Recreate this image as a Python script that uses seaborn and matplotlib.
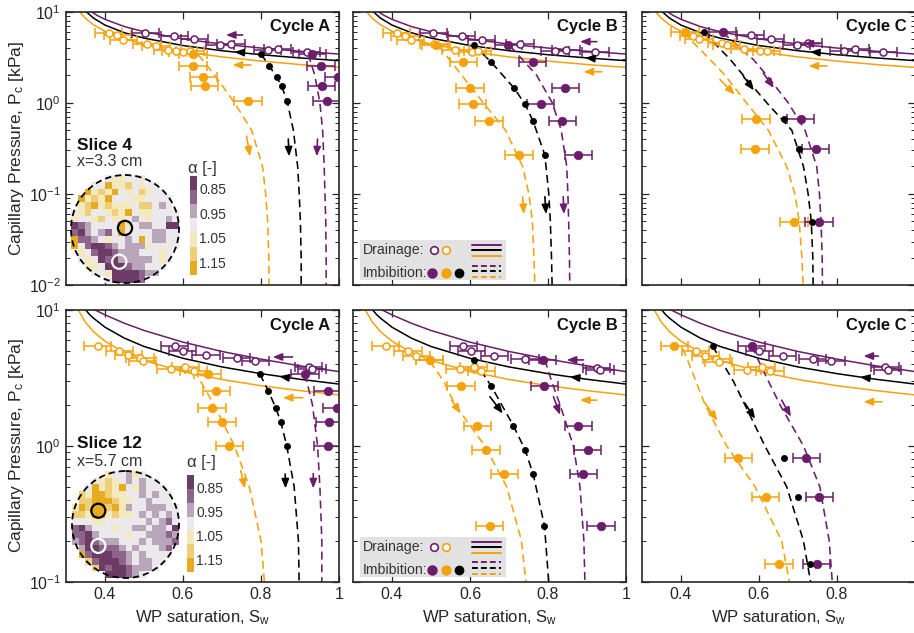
import numpy as np
import matplotlib
matplotlib.use("Agg")
import matplotlib.pyplot as plt
import seaborn as sns
from matplotlib.colors import ListedColormap
from matplotlib.patches import Circle, Rectangle
from matplotlib.ticker import LogLocator, NullFormatter, FixedLocator

# ------------------------------------------------------------------ colours
PURPLE = "#6b1d6b"
ORANGE = "#f6a20c"
BLACK = "#000000"
COLS = {"pu": PURPLE, "or": ORANGE, "bk": BLACK}

# ------------------------------------------------------------------ model drainage curves (solid), per slice
DR4_OR_S = [0.330, 0.340, 0.350, 0.370, 0.400, 0.450, 0.500, 0.600, 0.700, 0.800, 0.900, 1.000]
DR4_OR_P = [10.7, 9.38, 8.45, 7.21, 6.10, 5.05, 4.41, 3.65, 3.19, 2.87, 2.63, 2.45]
DR4_BK_S = [0.345, 0.352, 0.370, 0.400, 0.450, 0.500, 0.600, 0.700, 0.800, 0.900, 1.000]
DR4_BK_P = [10.8, 10.0, 8.53, 7.13, 5.87, 5.13, 4.25, 3.73, 3.37, 3.11, 2.90]
DR4_PU_S = [0.355, 0.365, 0.380, 0.400, 0.450, 0.500, 0.600, 0.700, 0.800, 0.900, 1.000]
DR4_PU_P = [10.8, 10.0, 9.10, 8.24, 6.86, 6.03, 5.02, 4.41, 3.99, 3.68, 3.43]

DR12_OR_S = [0.325, 0.335, 0.350, 0.370, 0.400, 0.450, 0.500, 0.600, 0.700, 0.800, 0.900, 1.000]
DR12_OR_P = [11.2, 9.60, 8.12, 6.95, 5.89, 4.87, 4.25, 3.52, 3.08, 2.77, 2.55, 2.37]
DR12_BK_S = [0.340, 0.360, 0.370, 0.400, 0.450, 0.500, 0.600, 0.700, 0.800, 0.900, 1.000]
DR12_BK_P = [10.85, 9.29, 8.73, 7.47, 6.20, 5.39, 4.41, 3.81, 3.40, 3.09, 2.85]
DR12_PU_S = [0.360, 0.380, 0.400, 0.450, 0.500, 0.600, 0.700, 0.800, 0.900, 1.000]
DR12_PU_P = [10.55, 9.83, 9.21, 7.98, 7.07, 5.80, 4.95, 4.35, 3.88, 3.52]

# ------------------------------------------------------------------ model imbibition curves (dashed), per panel
IA4_OR_S = [0.639, 0.682, 0.732, 0.776, 0.804, 0.812, 0.817, 0.820, 0.821]
IA4_OR_P = [3.37, 2.0, 1.0, 0.5, 0.2, 0.1, 0.05, 0.02, 0.008]
IA4_BK_S = [0.800, 0.821, 0.840, 0.853, 0.867, 0.883, 0.894, 0.898, 0.901, 0.903, 0.903]
IA4_BK_P = [3.43, 2.55, 1.92, 1.52, 1.04, 0.5, 0.2, 0.1, 0.05, 0.02, 0.008]
IA4_PU_S = [0.921, 0.938, 0.951, 0.958, 0.962, 0.964, 0.966, 0.967, 0.967]
IA4_PU_P = [3.40, 2.0, 1.0, 0.5, 0.2, 0.1, 0.05, 0.02, 0.008]

IB4_OR_S = [0.520, 0.579, 0.634, 0.691, 0.735, 0.751, 0.760, 0.764, 0.767]
IB4_OR_P = [4.2, 2.0, 1.0, 0.5, 0.2, 0.1, 0.05, 0.02, 0.008]
IB4_BK_S = [0.609, 0.654, 0.713, 0.741, 0.762, 0.792, 0.802, 0.806, 0.809, 0.811]
IB4_BK_P = [4.30, 2.81, 1.45, 0.97, 0.625, 0.267, 0.1, 0.05, 0.02, 0.008]
IB4_PU_S = [0.703, 0.771, 0.811, 0.834, 0.848, 0.851, 0.853, 0.855, 0.856]
IB4_PU_P = [4.2, 2.0, 1.0, 0.5, 0.2, 0.1, 0.05, 0.02, 0.008]

IC4_OR_S = [0.406, 0.474, 0.513, 0.568, 0.624, 0.671, 0.692, 0.703, 0.710, 0.714]
IC4_OR_P = [5.9, 3.0, 2.0, 1.0, 0.5, 0.2, 0.1, 0.05, 0.02, 0.008]
IC4_BK_S = [0.459, 0.526, 0.560, 0.620, 0.684, 0.714, 0.726, 0.734, 0.738, 0.739]
IC4_BK_P = [5.93, 3.0, 2.0, 1.0, 0.5, 0.2, 0.1, 0.05, 0.02, 0.008]
IC4_PU_S = [0.507, 0.585, 0.620, 0.675, 0.718, 0.748, 0.755, 0.759, 0.762, 0.763]
IC4_PU_P = [5.93, 3.0, 2.0, 1.0, 0.5, 0.2, 0.1, 0.05, 0.02, 0.008]

IA12_OR_S = [0.629, 0.680, 0.732, 0.770, 0.800, 0.810]
IA12_OR_P = [3.6, 2.0, 1.0, 0.5, 0.2, 0.09]
IA12_BK_S = [0.797, 0.819, 0.838, 0.851, 0.866, 0.885, 0.896, 0.898]
IA12_BK_P = [3.38, 2.53, 1.90, 1.49, 1.0, 0.5, 0.2, 0.09]
IA12_PU_S = [0.913, 0.932, 0.945, 0.951, 0.956, 0.956]
IA12_PU_P = [3.38, 2.0, 1.0, 0.5, 0.2, 0.09]

IB12_OR_S = [0.497, 0.532, 0.562, 0.638, 0.694, 0.732, 0.745]
IB12_OR_P = [4.2, 3.0, 2.0, 1.0, 0.5, 0.2, 0.09]
IB12_BK_S = [0.609, 0.654, 0.711, 0.741, 0.762, 0.791, 0.803]
IB12_BK_P = [4.29, 2.77, 1.41, 0.94, 0.62, 0.258, 0.09]
IB12_PU_S = [0.792, 0.809, 0.831, 0.865, 0.882, 0.892, 0.895]
IB12_PU_P = [4.29, 3.0, 2.0, 1.0, 0.5, 0.2, 0.09]

IC12_OR_S = [0.405, 0.438, 0.462, 0.517, 0.590, 0.658, 0.681]
IC12_OR_P = [5.2, 3.0, 2.0, 1.0, 0.5, 0.2, 0.09]
IC12_BK_S = [0.481, 0.534, 0.564, 0.615, 0.671, 0.714, 0.735]
IC12_BK_P = [5.43, 3.0, 2.0, 1.0, 0.5, 0.2, 0.09]
IC12_PU_S = [0.581, 0.624, 0.654, 0.714, 0.756, 0.780, 0.789]
IC12_PU_P = [5.43, 3.0, 2.0, 1.0, 0.5, 0.2, 0.09]

# ------------------------------------------------------------------ measured points
XERR = 0.035
# slice 4, cycle A
A4_DO_S = [0.409, 0.432, 0.447, 0.508, 0.531, 0.561, 0.582, 0.600, 0.618]
A4_DO_P = [5.89, 5.50, 4.90, 4.38, 4.16, 3.79, 3.70, 3.64, 3.70]
A4_DP_S = [0.503, 0.578, 0.629, 0.695, 0.723, 0.817, 0.843, 0.917]
A4_DP_P = [5.89, 5.41, 4.97, 4.27, 4.46, 3.76, 3.86, 3.64]
A4_IM_P = [3.43, 2.55, 1.92, 1.52, 1.04]
A4_IO_S = [0.626, 0.626, 0.652, 0.656, 0.767]
A4_IB_S = [0.800, 0.821, 0.840, 0.853, 0.867]
A4_IP_S = [0.932, 0.954, 0.998, 0.956, 0.969]
# slice 4, cycle B
B4_DO_S = [0.412, 0.433, 0.448, 0.508, 0.562, 0.606, 0.620]
B4_DO_P = [5.84, 5.46, 4.93, 4.46, 3.83, 3.61, 3.70]
B4_DP_S = [0.506, 0.579, 0.630, 0.728, 0.818, 0.846, 0.921]
B4_DP_P = [5.84, 5.46, 4.93, 4.46, 3.73, 3.83, 3.61]
B4_IM_P = [4.30, 2.81, 1.45, 0.97, 0.625, 0.267]
B4_IO_S = [0.513, 0.583, 0.600, 0.607, 0.649, 0.726]
B4_IB_S = [0.609, 0.654, 0.713, 0.741, 0.762, 0.792]
B4_IP_S = [0.698, 0.761, 0.844, 0.781, 0.837, 0.878]
# slice 4, cycle C
C4_DO_S = [0.432, 0.446, 0.504, 0.517, 0.562, 0.603, 0.620]
C4_DO_P = [5.36, 5.00, 4.53, 4.35, 3.89, 3.66, 3.73]
C4_DP_S = [0.579, 0.630, 0.697, 0.726, 0.818, 0.846, 0.919]
C4_DP_P = [5.50, 5.00, 4.35, 4.53, 3.73, 3.89, 3.61]
C4_IM_P = [5.93, 0.664, 0.313, 0.0486]
C4_IO_S = [0.410, 0.592, 0.590, 0.690]
C4_IB_S = [0.459, 0.665, 0.703, 0.735]
C4_IP_S = [0.507, 0.707, 0.745, 0.754]
# slice 12, cycle A
A12_DO_S = [0.381, 0.437, 0.460, 0.490, 0.497, 0.569, 0.606, 0.627]
A12_DO_P = [5.43, 5.01, 4.66, 4.41, 4.21, 3.66, 3.83, 3.57]
A12_DP_S = [0.579, 0.599, 0.659, 0.738, 0.785, 0.922, 0.931]
A12_DP_P = [5.46, 5.01, 4.66, 4.41, 4.21, 3.80, 3.68]
A12_IM_P = [3.38, 2.53, 1.90, 1.49, 1.00]
A12_IO_S = [0.663, 0.685, 0.674, 0.700, 0.719]
A12_IB_S = [0.797, 0.819, 0.838, 0.851, 0.866]
A12_IP_S = [0.913, 0.971, 0.995, 0.975, 0.971]
# slice 12, cycle B
B12_DO_S = [0.384, 0.441, 0.462, 0.497, 0.574, 0.609, 0.629]
B12_DO_P = [5.43, 5.01, 4.61, 4.28, 3.66, 3.79, 3.57]
B12_DP_S = [0.583, 0.603, 0.662, 0.741, 0.925, 0.933]
B12_DP_P = [5.46, 4.99, 4.61, 4.36, 3.76, 3.61]
B12_IM_P = [4.29, 2.77, 1.41, 0.94, 0.62, 0.258]
B12_IO_S = [0.497, 0.577, 0.619, 0.641, 0.688, 0.650]
B12_IB_S = [0.609, 0.654, 0.711, 0.741, 0.762, 0.791]
B12_IP_S = [0.786, 0.791, 0.878, 0.902, 0.891, 0.936]
# slice 12, cycle C
C12_DO_S = [0.438, 0.462, 0.491, 0.497, 0.570, 0.607, 0.628]
C12_DO_P = [5.01, 4.61, 4.36, 4.16, 3.61, 3.79, 3.56]
C12_DP_S = [0.601, 0.661, 0.738, 0.785, 0.923, 0.930]
C12_DP_P = [5.01, 4.58, 4.36, 4.21, 3.79, 3.61]
C12_IM_P = [5.43, 0.81, 0.42, 0.134]
C12_IO_S = [0.383, 0.547, 0.617, 0.651]
C12_IB_S = [0.481, 0.664, 0.701, 0.732]
C12_IP_S = [0.581, 0.721, 0.755, 0.748]

# ------------------------------------------------------------------ direction arrows (annotations): colour, x0, y0, x1, y1
ARR_A4 = [("pu", 0.753, 5.55, 0.710, 5.55), ("or", 0.774, 2.60, 0.727, 2.60), ("bk", 0.744, 3.59, 0.732, 3.62),
          ("or", 0.763, 0.43, 0.772, 0.258), ("bk", 0.870, 0.40, 0.872, 0.258), ("pu", 0.945, 0.40, 0.943, 0.258)]
ARR_B4 = [("pu", 0.925, 4.69, 0.882, 4.69), ("or", 0.938, 2.19, 0.891, 2.19), ("bk", 0.907, 3.09, 0.895, 3.12),
          ("or", 0.735, 0.093, 0.738, 0.060), ("bk", 0.792, 0.093, 0.795, 0.060), ("pu", 0.839, 0.093, 0.841, 0.060)]
ARR_C4 = [("pu", 0.756, 4.46, 0.714, 4.46), ("or", 0.774, 2.54, 0.727, 2.54), ("bk", 0.743, 3.59, 0.731, 3.62),
          ("or", 0.500, 1.80, 0.538, 1.23), ("bk", 0.560, 1.95, 0.587, 1.37), ("pu", 0.611, 2.12, 0.638, 1.45)]
ARR_A12 = [("pu", 0.881, 4.51, 0.830, 4.51), ("or", 0.907, 2.26, 0.856, 2.26), ("bk", 0.859, 3.21, 0.847, 3.25),
           ("or", 0.748, 0.656, 0.759, 0.486), ("bk", 0.862, 0.62, 0.863, 0.486), ("pu", 0.934, 0.625, 0.934, 0.486)]
ARR_B12 = [("pu", 0.891, 4.29, 0.848, 4.29), ("or", 0.925, 2.17, 0.882, 2.17), ("bk", 0.868, 3.19, 0.856, 3.22),
           ("or", 0.553, 2.17, 0.576, 1.73), ("bk", 0.651, 2.30, 0.684, 1.73), ("pu", 0.814, 2.30, 0.831, 1.69)]
ARR_C12 = [("pu", 0.906, 4.58, 0.868, 4.58), ("or", 0.915, 2.11, 0.868, 2.11), ("bk", 0.871, 3.18, 0.859, 3.21),
           ("or", 0.462, 2.06, 0.493, 1.53), ("bk", 0.564, 2.06, 0.590, 1.58), ("pu", 0.658, 2.17, 0.682, 1.64)]

# ------------------------------------------------------------------ alpha maps (digit = colour class 0..6)
ALPHA_BINS = [0.829, 0.886, 0.943, 1.000, 1.057, 1.114, 1.171]
ALPHA_TICKS = [0.85, 0.95, 1.05, 1.15]
MAP4 = ["3333334433333333",
        "3333364453433333",
        "3364546343543333",
        "3645463334433333",
        "3456454443553233",
        "3453345463443333",
        "4334534432343323",
        "0123333643223300",
        "1023213633332233",
        "6112343323632233",
        "6310012322243333",
        "5431001222333433",
        "6343010222223433",
        "3544300012233333",
        "3333340000122333",
        "3333330000133333"]
MAP12 = ["3333343324333333",
         "3333454323233333",
         "3336454634233333",
         "3546654433232333",
         "3556665443323333",
         "4656656423322233",
         "5546645443232323",
         "3334433333323213",
         "1023334332232230",
         "1102333343322212",
         "2101222333232221",
         "6200111232333213",
         "5610001123233333",
         "3551000123223333",
         "3335010012223333",
         "3333300012333333"]
MAP_COLORS = ["#6c3c67", "#8e658a", "#baa6ba", "#ebe9eb", "#f4e8bd", "#eecf78", "#e6ab1e"]

# ------------------------------------------------------------------ panel table
DRAIN = {0: [(DR4_PU_S, DR4_PU_P, "pu"), (DR4_BK_S, DR4_BK_P, "bk"), (DR4_OR_S, DR4_OR_P, "or")],
         1: [(DR12_PU_S, DR12_PU_P, "pu"), (DR12_BK_S, DR12_BK_P, "bk"), (DR12_OR_S, DR12_OR_P, "or")]}
PANELS = [
    (0, 0, "Cycle A", (A4_DO_S, A4_DO_P), (A4_DP_S, A4_DP_P), A4_IM_P, A4_IO_S, A4_IB_S, A4_IP_S,
     [(IA4_PU_S, IA4_PU_P, "pu"), (IA4_BK_S, IA4_BK_P, "bk"), (IA4_OR_S, IA4_OR_P, "or")], ARR_A4),
    (0, 1, "Cycle B", (B4_DO_S, B4_DO_P), (B4_DP_S, B4_DP_P), B4_IM_P, B4_IO_S, B4_IB_S, B4_IP_S,
     [(IB4_PU_S, IB4_PU_P, "pu"), (IB4_BK_S, IB4_BK_P, "bk"), (IB4_OR_S, IB4_OR_P, "or")], ARR_B4),
    (0, 2, "Cycle C", (C4_DO_S, C4_DO_P), (C4_DP_S, C4_DP_P), C4_IM_P, C4_IO_S, C4_IB_S, C4_IP_S,
     [(IC4_PU_S, IC4_PU_P, "pu"), (IC4_BK_S, IC4_BK_P, "bk"), (IC4_OR_S, IC4_OR_P, "or")], ARR_C4),
    (1, 0, "Cycle A", (A12_DO_S, A12_DO_P), (A12_DP_S, A12_DP_P), A12_IM_P, A12_IO_S, A12_IB_S, A12_IP_S,
     [(IA12_PU_S, IA12_PU_P, "pu"), (IA12_BK_S, IA12_BK_P, "bk"), (IA12_OR_S, IA12_OR_P, "or")], ARR_A12),
    (1, 1, "Cycle B", (B12_DO_S, B12_DO_P), (B12_DP_S, B12_DP_P), B12_IM_P, B12_IO_S, B12_IB_S, B12_IP_S,
     [(IB12_PU_S, IB12_PU_P, "pu"), (IB12_BK_S, IB12_BK_P, "bk"), (IB12_OR_S, IB12_OR_P, "or")], ARR_B12),
    (1, 2, "Cycle C", (C12_DO_S, C12_DO_P), (C12_DP_S, C12_DP_P), C12_IM_P, C12_IO_S, C12_IB_S, C12_IP_S,
     [(IC12_PU_S, IC12_PU_P, "pu"), (IC12_BK_S, IC12_BK_P, "bk"), (IC12_OR_S, IC12_OR_P, "or")], ARR_C12),
]

# ------------------------------------------------------------------ style
sns.set_theme(style="ticks")
plt.rcParams["font.family"] = ["Liberation Sans", "DejaVu Sans"]
plt.rcParams.update({
    "mathtext.fontset": "custom",
    "mathtext.rm": "Liberation Sans",
    "mathtext.it": "Liberation Sans:italic",
    "mathtext.bf": "Liberation Sans:bold",
    "axes.edgecolor": "#262626",
    "text.color": "#262626",
    "axes.labelcolor": "#262626",
    "xtick.color": "#262626",
    "ytick.color": "#262626",
})

W, H = 914, 633
fig = plt.figure(figsize=(W / 100, H / 100), dpi=100)
fig.patch.set_facecolor("white")


def px_rect(x, y, w, h):
    return [x / W, 1 - (y + h) / H, w / W, h / H]


COL_X = [66, 353, 642]
ROW_Y = [(11.7, 273.3), (310.0, 271.7)]
YLIM = [(0.01, 10), (0.1, 10)]
DASH = (0, (5, 3))


def draw_legend(ax):
    ax.add_patch(Rectangle((0.025, 0.018), 0.535, 0.147, transform=ax.transAxes,
                           facecolor="#e2e2e2", edgecolor="none", zorder=8))
    ax.text(0.036, 0.128, "Drainage:", transform=ax.transAxes, va="center", ha="left",
            fontsize=10.2, color="#333333", zorder=9)
    ax.text(0.036, 0.044, "Imbibition:", transform=ax.transAxes, va="center", ha="left",
            fontsize=10.2, color="#333333", zorder=9)
    for xx, c in [(0.296, PURPLE), (0.342, ORANGE)]:
        ax.plot([xx], [0.128], "o", mfc="white", mec=c, mew=1.2, ms=5.5,
                transform=ax.transAxes, zorder=9, clip_on=False)
    for xx, c, ms in [(0.291, PURPLE, 6.5), (0.340, ORANGE, 6.5), (0.389, BLACK, 6.0)]:
        ax.plot([xx], [0.044], "o", mfc=c, mec=c, ms=ms, transform=ax.transAxes, zorder=9, clip_on=False)
    for yy, c in [(0.147, PURPLE), (0.128, BLACK), (0.107, ORANGE)]:
        ax.plot([0.436, 0.542], [yy, yy], "-", color=c, lw=1.4, transform=ax.transAxes, zorder=9)
    for yy, c in [(0.071, PURPLE), (0.051, BLACK), (0.030, ORANGE)]:
        ax.plot([0.436, 0.542], [yy, yy], color=c, lw=1.4, ls=(0, (3, 1.6)), transform=ax.transAxes, zorder=9)


for (r, c, title, dro, drp, imp, ios, ibs, ips, curves, arrows) in PANELS:
    y0, hh = ROW_Y[r]
    ax = fig.add_axes(px_rect(COL_X[c], y0, 273, hh))
    ax.set_yscale("log")
    ax.set_facecolor("white")

    for s, p, k in DRAIN[r]:
        sns.lineplot(x=s, y=p, ax=ax, color=COLS[k], lw=1.1, sort=False, estimator=None,
                     legend=False, zorder=2)
    for s, p, k in curves:
        sns.lineplot(x=s, y=p, ax=ax, color=COLS[k], lw=1.15, sort=False, estimator=None,
                     legend=False, linestyle=DASH, zorder=2)

    # error bars
    ax.errorbar(dro[0], dro[1], xerr=XERR, fmt="none", ecolor=ORANGE, elinewidth=1.1,
                capsize=3.3, capthick=1.1, zorder=3)
    ax.errorbar(drp[0], drp[1], xerr=XERR, fmt="none", ecolor=PURPLE, elinewidth=1.1,
                capsize=3.3, capthick=1.1, zorder=3)
    ax.errorbar(ios, imp, xerr=XERR, fmt="none", ecolor=ORANGE, elinewidth=1.1,
                capsize=3.3, capthick=1.1, zorder=3)
    ax.errorbar(ips, imp, xerr=XERR, fmt="none", ecolor=PURPLE, elinewidth=1.1,
                capsize=3.3, capthick=1.1, zorder=3)

    # markers
    sns.scatterplot(x=dro[0], y=dro[1], ax=ax, color="white", edgecolor=ORANGE, linewidth=1.1,
                    s=26, legend=False, zorder=4)
    sns.scatterplot(x=drp[0], y=drp[1], ax=ax, color="white", edgecolor=PURPLE, linewidth=1.1,
                    s=26, legend=False, zorder=4)
    sns.scatterplot(x=ios, y=imp, ax=ax, color=ORANGE, edgecolor=ORANGE, linewidth=0.5,
                    s=38, legend=False, zorder=4)
    sns.scatterplot(x=ips, y=imp, ax=ax, color=PURPLE, edgecolor=PURPLE, linewidth=0.5,
                    s=38, legend=False, zorder=4)
    sns.scatterplot(x=ibs, y=imp, ax=ax, color=BLACK, edgecolor=BLACK, linewidth=0.5,
                    s=20, legend=False, zorder=5)

    # arrows
    for k, xa, ya, xb, yb in arrows:
        ax.annotate("", xy=(xb, yb), xytext=(xa, ya),
                    arrowprops=dict(arrowstyle="-|>,head_length=0.55,head_width=0.22",
                                    color=COLS[k], lw=1.2, shrinkA=0, shrinkB=0,
                                    mutation_scale=10), zorder=5)

    ax.set_xlim(0.3, 1.0)
    ax.set_ylim(*YLIM[r])
    ax.xaxis.set_major_locator(FixedLocator([0.4, 0.6, 0.8, 1.0]))
    if c == 2:
        ax.set_xticklabels(["0.4", "0.6", "0.8", ""])
    else:
        ax.set_xticklabels(["0.4", "0.6", "0.8", "1"])
    ax.yaxis.set_major_locator(LogLocator(base=10, numticks=10))
    ax.yaxis.set_minor_locator(LogLocator(base=10, subs=np.arange(2, 10), numticks=50))
    ax.yaxis.set_minor_formatter(NullFormatter())
    ax.tick_params(which="both", direction="in", top=True, right=True, labelsize=11.5)
    ax.tick_params(which="major", length=5, width=0.9)
    ax.tick_params(which="minor", length=2.8, width=0.7)
    for sp in ax.spines.values():
        sp.set_linewidth(1.2)
        sp.set_color("#262626")
    ax.set_xlabel("")
    ax.set_ylabel("")
    if c != 0:
        ax.tick_params(labelleft=False)
    else:
        ax.set_ylabel("Capillary Pressure, P$_\\mathrm{c}$ [kPa]", fontsize=12.5, labelpad=2)
    if r == 0:
        ax.tick_params(labelbottom=False)
    else:
        ax.set_xlabel("WP saturation, S$_\\mathrm{w}$", fontsize=12, labelpad=5)

    ax.text(0.968, 0.972, title, transform=ax.transAxes, ha="right", va="top",
            fontsize=12, fontweight="bold", color="#111111", zorder=9)
    if c == 1:
        draw_legend(ax)

# ------------------------------------------------------------------ inset alpha maps
cmap = ListedColormap(MAP_COLORS)
INSETS = [
    (MAP4, (71, 175, 108, 108), (190, 176, 7, 99), "Slice 4", "x=3.3 cm", (77, 145), (77, 162), (188, 168),
     (8.0, 7.84), (7.15, 12.85)),
    (MAP12, (72, 471, 107, 107), (187, 475, 7, 97), "Slice 12", "x=5.7 cm", (77, 443), (77, 461), (187, 463),
     (3.94, 5.94), (3.94, 11.2)),
]
for grid, rect, crect, t1, t2, p1, p2, p3, bc, wc in INSETS:
    vals = np.array([[ALPHA_BINS[int(ch)] for ch in row] for row in grid])
    n = vals.shape[0]
    yy, xx = np.mgrid[0:n, 0:n]
    mask = np.hypot(xx + 0.5 - n / 2, yy + 0.5 - n / 2) > n / 2 + 0.25
    axin = fig.add_axes(px_rect(*rect))
    sns.heatmap(vals, mask=mask, cmap=cmap, vmin=0.8, vmax=1.2, cbar=False, ax=axin,
                xticklabels=False, yticklabels=False, linewidths=0)
    axin.patch.set_alpha(0)
    axin.add_patch(Circle((n / 2, n / 2), n / 2, fill=False, ec="black", lw=1.3,
                          ls=(0, (3.5, 2.2)), clip_on=False, zorder=6))
    axin.add_patch(Circle(bc, 1.05, fill=False, ec="black", lw=1.6, clip_on=False, zorder=7))
    axin.add_patch(Circle(wc, 1.05, fill=False, ec="white", lw=1.6, clip_on=False, zorder=7))
    for sp in axin.spines.values():
        sp.set_visible(False)

    cax = fig.add_axes(px_rect(*crect))
    cax.imshow(np.array(ALPHA_BINS).reshape(-1, 1), cmap=cmap, vmin=0.8, vmax=1.2,
               aspect="auto", extent=[0, 1, 1.2, 0.8])
    cax.set_xticks([])
    cax.set_yticks(ALPHA_TICKS)
    cax.set_yticklabels([f"{v:.2f}" for v in ALPHA_TICKS])
    cax.yaxis.tick_right()
    cax.tick_params(axis="y", length=0, pad=1.5, labelsize=10, colors="#333333")
    for sp in cax.spines.values():
        sp.set_visible(False)

    fig.text(p1[0] / W, 1 - p1[1] / H, t1, fontsize=12.5, fontweight="bold", va="center",
             ha="left", color="#111111")
    fig.text(p2[0] / W, 1 - p2[1] / H, t2, fontsize=11.5, va="center", ha="left", color="#333333")
    fig.text(p3[0] / W, 1 - p3[1] / H, "α [-]", fontsize=12, va="center", ha="left", color="#333333")

fig.savefig("out.png", dpi=100)
